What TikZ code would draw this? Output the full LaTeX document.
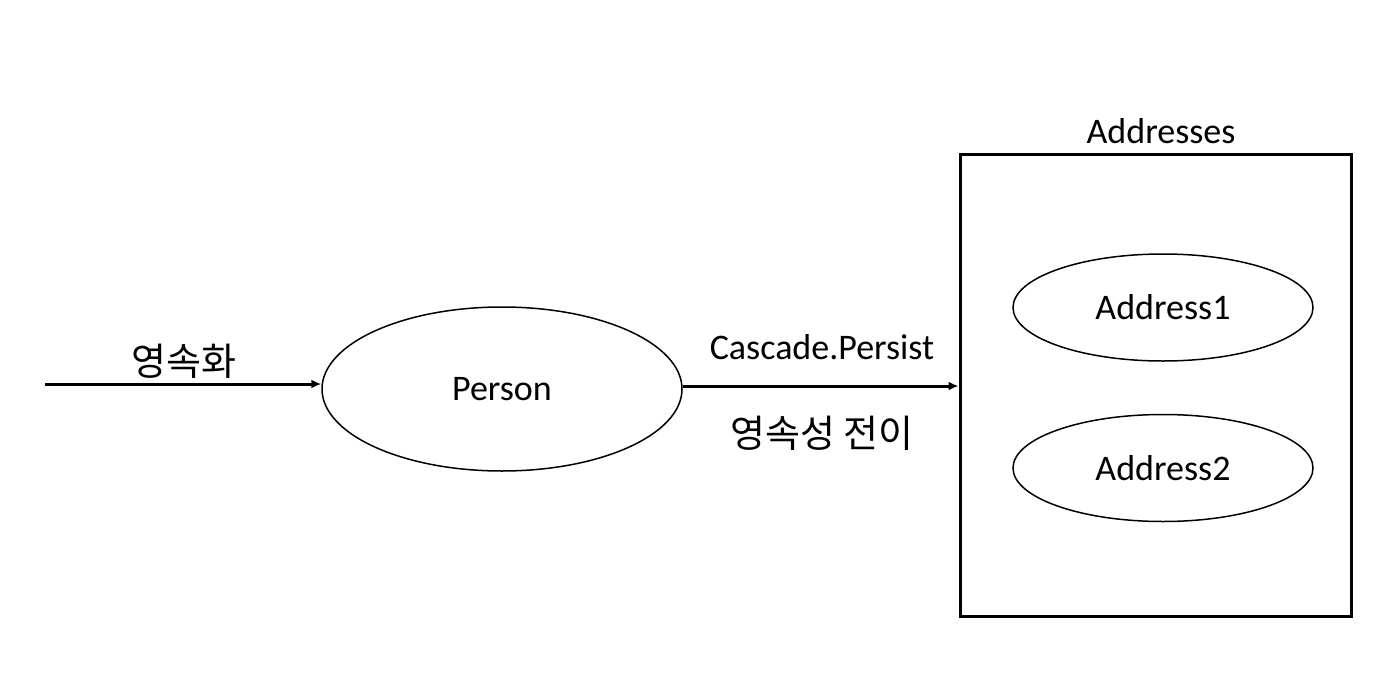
\documentclass[tikz,border=0pt]{standalone}
\usepackage{fontspec}
\setmainfont{Carlito}
\newfontfamily\kr{Noto Sans CJK KR}
\usetikzlibrary{shapes.geometric,arrows.meta}
\tikzset{
  txt/.style={font=\fontsize{18}{22}\selectfont, inner sep=0pt},
  krtxt/.style={font=\fontsize{19}{23}\selectfont\kr, inner sep=0pt},
  entity/.style={draw, ellipse, line width=.75pt, txt},
  flow/.style={line width=1.5pt, -{Latex[length=5pt,width=4.5pt]}}
}
\begin{document}
\begin{tikzpicture}[x=.5pt,y=-.5pt]
      \useasboundingbox (0,0) rectangle (1389,686);
      \node[entity, minimum width=180pt, minimum height=82pt] (person) at (502,389) {Person};
      \node[draw, line width=1.5pt, minimum width=195.5pt, minimum height=231pt] (addrbox) at (1155.5,385) {};
      \node[txt] (addrlabel) at (1161,131) {Addresses};
      \node[entity, minimum width=150pt, minimum height=53.5pt] (addr1) at (1163,307.5) {Address1};
      \node[entity, minimum width=150pt, minimum height=53.5pt] (addr2) at (1163,468) {Address2};
      \coordinate (start) at (45,384);
      \draw[flow] (start) -- (start -| person.west);
      \node[krtxt] (persist) at (184,361) {영속화};
      \draw[flow] (person.east |- 0,386) -- (addrbox.west |- 0,386);
      \node[txt] (cascade) at (822,347) {Cascade.Persist};
      \node[krtxt] (transit) at (822,433) {영속성 전이};
    \end{tikzpicture}
\end{document}
